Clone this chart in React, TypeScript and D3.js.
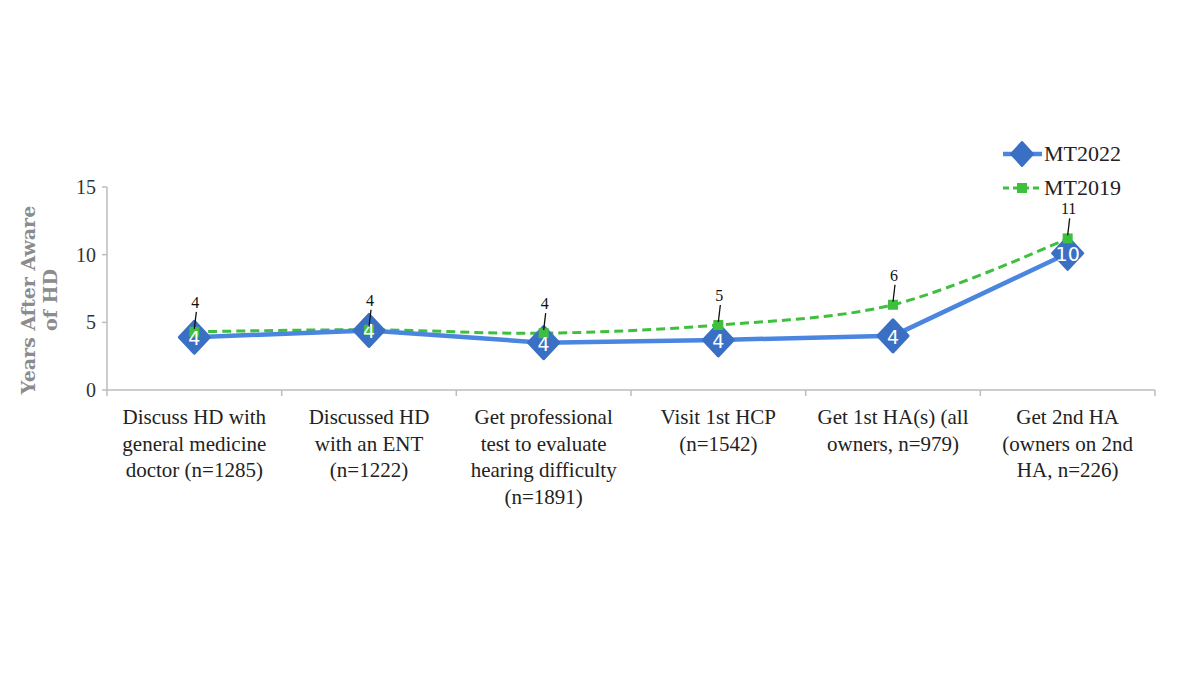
import React, { useEffect, useRef } from "react";
import * as d3 from "d3";

const categories = [
  ["Discuss HD with", "general medicine", "doctor (n=1285)"],
  ["Discussed HD", "with an ENT", "(n=1222)"],
  ["Get professional", "test to evaluate", "hearing difficulty", "(n=1891)"],
  ["Visit 1st HCP", "(n=1542)"],
  ["Get 1st HA(s) (all", "owners, n=979)"],
  ["Get 2nd HA", "(owners on 2nd", "HA, n=226)"],
];
const mt2022 = [3.9, 4.4, 3.5, 3.7, 4.0, 10.1];
const mt2019 = [4.3, 4.45, 4.2, 4.8, 6.3, 11.2];
const mt2019Labels = ["4", "4", "4", "5", "6", "11"];
const mt2022Labels = ["4", "4", "4", "4", "4", "10"];
const yTicks = [0, 5, 10, 15];

const BLUE_LINE = "#4a86e0";
const BLUE_MARK = "#3a70c4";
const GREEN = "#3ebf3e";
const SERIF = "'Liberation Serif', 'DejaVu Serif', serif";

export default function App() {
  const ref = useRef<SVGSVGElement>(null);

  useEffect(() => {
    document.body.style.margin = "0";
    const svg = d3.select(ref.current);
    svg.selectAll("*").remove();

    const left = 107, right = 1155, top = 187, bottom = 390;
    const x = d3.scaleBand<number>().domain(d3.range(categories.length)).range([left, right]);
    const y = d3.scaleLinear().domain([0, 15]).range([bottom, top]);
    const cx = (i: number) => (x(i) ?? 0) + x.bandwidth() / 2;

    // axes
    const g = svg.append("g");
    g.append("line").attr("x1", left).attr("x2", left).attr("y1", top).attr("y2", bottom).attr("stroke", "#bdbdbd").attr("stroke-width", 1.5);
    g.append("line").attr("x1", left).attr("x2", right).attr("y1", bottom).attr("y2", bottom).attr("stroke", "#bdbdbd").attr("stroke-width", 1.5);
    yTicks.forEach((t) => {
      g.append("line").attr("x1", left - 5).attr("x2", left).attr("y1", y(t)).attr("y2", y(t)).attr("stroke", "#bdbdbd").attr("stroke-width", 1.5);
      g.append("text").attr("x", 96).attr("y", y(t) + 7).attr("text-anchor", "end")
        .attr("font-family", SERIF).attr("font-size", 20).attr("fill", "#333").text(t);
    });
    d3.range(categories.length + 1).forEach((i) => {
      const tx = i < categories.length ? (x(i) ?? 0) : right;
      g.append("line").attr("x1", tx).attr("x2", tx).attr("y1", bottom).attr("y2", bottom + 6).attr("stroke", "#bdbdbd").attr("stroke-width", 1.5);
    });
    categories.forEach((lines, i) => {
      const t = g.append("text").attr("text-anchor", "middle").attr("font-family", SERIF)
        .attr("font-size", 21).attr("fill", "#222");
      lines.forEach((l, k) => {
        t.append("tspan").attr("x", cx(i)).attr("y", 424 + k * 26.5).text(l);
      });
    });

    // y title
    const yt = g.append("text").attr("transform", "translate(38,300) rotate(-90)").attr("text-anchor", "middle")
      .attr("font-family", "'DejaVu Serif', serif").attr("font-size", 19).attr("font-weight", "bold").attr("fill", "#8c8c8c");
    yt.append("tspan").attr("x", 0).attr("y", -3).text("Years After Aware");
    yt.append("tspan").attr("x", 0).attr("y", 19).text("of HD");

    const line2022 = d3.line<number>().x((_, i) => cx(i)).y((d) => y(d));
    const line2019 = d3.line<number>().x((_, i) => cx(i)).y((d) => y(d)).curve(d3.curveCatmullRom.alpha(0.5));

    // MT2019
    svg.append("path").attr("d", line2019(mt2019)).attr("fill", "none").attr("stroke", GREEN)
      .attr("stroke-width", 3).attr("stroke-dasharray", "9,5");
    // MT2022
    svg.append("path").attr("d", line2022(mt2022)).attr("fill", "none").attr("stroke", BLUE_LINE)
      .attr("stroke-width", 4.5).attr("stroke-linejoin", "round");

    const diamond = (px: number, py: number, w: number, h: number) =>
      `M${px},${py - h}L${px + w},${py}L${px},${py + h}L${px - w},${py}Z`;

    mt2022.forEach((v, i) => {
      svg.append("path").attr("d", diamond(cx(i), y(v), 15, 16)).attr("fill", BLUE_MARK)
        .attr("stroke", BLUE_MARK).attr("stroke-width", 3).attr("stroke-linejoin", "round");
    });
    mt2019.forEach((v, i) => {
      svg.append("rect").attr("x", cx(i) - 5).attr("y", y(v) - 5).attr("width", 10).attr("height", 10).attr("fill", GREEN);
    });
    mt2022.forEach((v, i) => {
      svg.append("text").attr("x", cx(i)).attr("y", y(v) + 8).attr("text-anchor", "middle")
        .attr("font-family", "'DejaVu Sans', sans-serif").attr("font-size", 19).attr("fill", "#fff")
        .text(mt2022Labels[i]);
    });
    mt2019.forEach((v, i) => {
      const py = y(v);
      svg.append("line").attr("x1", cx(i) + 2).attr("x2", cx(i)).attr("y1", py - 20).attr("y2", py - 3)
        .attr("stroke", "#111").attr("stroke-width", 1.3);
      svg.append("text").attr("x", cx(i) + 1).attr("y", py - 24).attr("text-anchor", "middle")
        .attr("font-family", SERIF).attr("font-size", 16).attr("fill", "#111").text(mt2019Labels[i]);
    });

    // legend
    const lg = svg.append("g");
    lg.append("line").attr("x1", 1003).attr("x2", 1042).attr("y1", 154).attr("y2", 154).attr("stroke", BLUE_LINE).attr("stroke-width", 4.5);
    lg.append("path").attr("d", diamond(1022, 154, 11, 12)).attr("fill", BLUE_MARK).attr("stroke", BLUE_MARK).attr("stroke-width", 2).attr("stroke-linejoin", "round");
    lg.append("text").attr("x", 1044).attr("y", 161).attr("font-family", SERIF).attr("font-size", 22).attr("fill", "#222").text("MT2022");
    lg.append("line").attr("x1", 1003).attr("x2", 1042).attr("y1", 188).attr("y2", 188).attr("stroke", GREEN).attr("stroke-width", 3).attr("stroke-dasharray", "6,4");
    lg.append("rect").attr("x", 1017).attr("y", 183).attr("width", 10).attr("height", 10).attr("fill", GREEN);
    lg.append("text").attr("x", 1044).attr("y", 195).attr("font-family", SERIF).attr("font-size", 22).attr("fill", "#222").text("MT2019");
  }, []);

  return <svg ref={ref} width={1200} height={675} style={{ display: "block", background: "#fff" }} />;
}
